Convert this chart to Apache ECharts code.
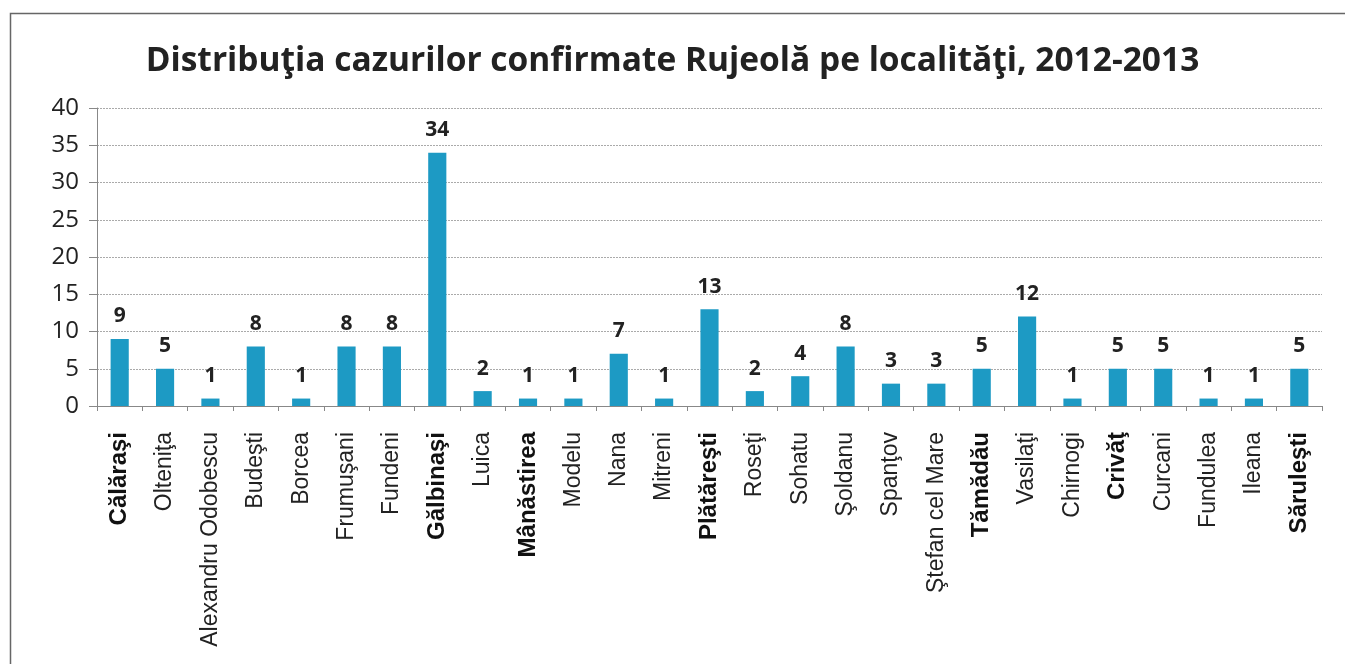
<!DOCTYPE html>
<html>
<head>
<meta charset="utf-8">
<script src="https://cdn.jsdelivr.net/npm/echarts@6/dist/echarts.min.js"></script>
<style>
  html, body { margin: 0; padding: 0; background: #fff; }
  #chart { width: 1345px; height: 664px; }
</style>
</head>
<body>
<div id="chart"></div>
<script>
const localities = [
  'Călăraşi', 'Olteniţa', 'Alexandru Odobescu', 'Budeşti', 'Borcea', 'Frumuşani',
  'Fundeni', 'Gălbinaşi', 'Luica', 'Mânăstirea', 'Modelu', 'Nana', 'Mitreni',
  'Plătăreşti', 'Roseţi', 'Sohatu', 'Şoldanu', 'Spanţov', 'Ştefan cel Mare',
  'Tămădău', 'Vasilaţi', 'Chirnogi', 'Crivăţ', 'Curcani', 'Fundulea', 'Ileana', 'Săruleşti'
];
const cases = [9, 5, 1, 8, 1, 8, 8, 34, 2, 1, 1, 7, 1, 13, 2, 4, 8, 3, 3, 5, 12, 1, 5, 5, 1, 1, 5];
const boldNames = ['Călăraşi', 'Gălbinaşi', 'Mânăstirea', 'Plătăreşti', 'Tămădău', 'Crivăţ', 'Săruleşti'];

const chart = echarts.init(document.getElementById('chart'));

chart.setOption({
  backgroundColor: '#fff',
  animation: false,
  title: {
    text: 'Distribuţia cazurilor confirmate Rujeolă pe localităţi, 2012-2013',
    left: 'center',
    top: 39,
    textStyle: { fontFamily: 'Open Sans', fontWeight: 'bold', fontSize: 33.5, color: '#222' }
  },
  graphic: [{
    type: 'rect',
    left: 8, top: 11,
    shape: { width: 1345, height: 700 },
    style: { fill: 'none', stroke: '#666', lineWidth: 1.5 },
    silent: true
  }],
  grid: { left: 97, right: 23, top: 108, bottom: 258, containLabel: false },
  xAxis: {
    type: 'category',
    data: localities,
    axisLine: { lineStyle: { color: '#888' } },
    axisTick: { show: true, length: 5, lineStyle: { color: '#888' } },
    axisLabel: {
      interval: 0,
      rotate: 90,
      margin: 26,
      fontFamily: 'Liberation Sans',
      fontSize: 23,
      color: '#222',
      formatter: (v) => boldNames.includes(v) ? '{b|' + v + '}' : v,
      rich: { b: { fontFamily: 'Liberation Sans', fontWeight: 'bold', fontSize: 24, color: '#111' } }
    }
  },
  yAxis: {
    type: 'value',
    min: 0,
    max: 40,
    interval: 5,
    axisLine: { show: true, lineStyle: { color: '#888' } },
    axisTick: { show: true, length: 8, lineStyle: { color: '#888' } },
    axisLabel: { fontFamily: 'Open Sans', fontSize: 24, color: '#222', margin: 18 },
    splitLine: { lineStyle: { color: '#aaa', type: [2, 1], width: 1 } }
  },
  series: [{
    type: 'bar',
    data: cases,
    barWidth: '40%',
    itemStyle: { color: '#1d9ac4' },
    label: {
      show: true,
      position: 'top',
      distance: 12,
      fontFamily: 'Open Sans',
      fontWeight: 'bold',
      fontSize: 21,
      color: '#222'
    }
  }]
});
</script>
</body>
</html>
